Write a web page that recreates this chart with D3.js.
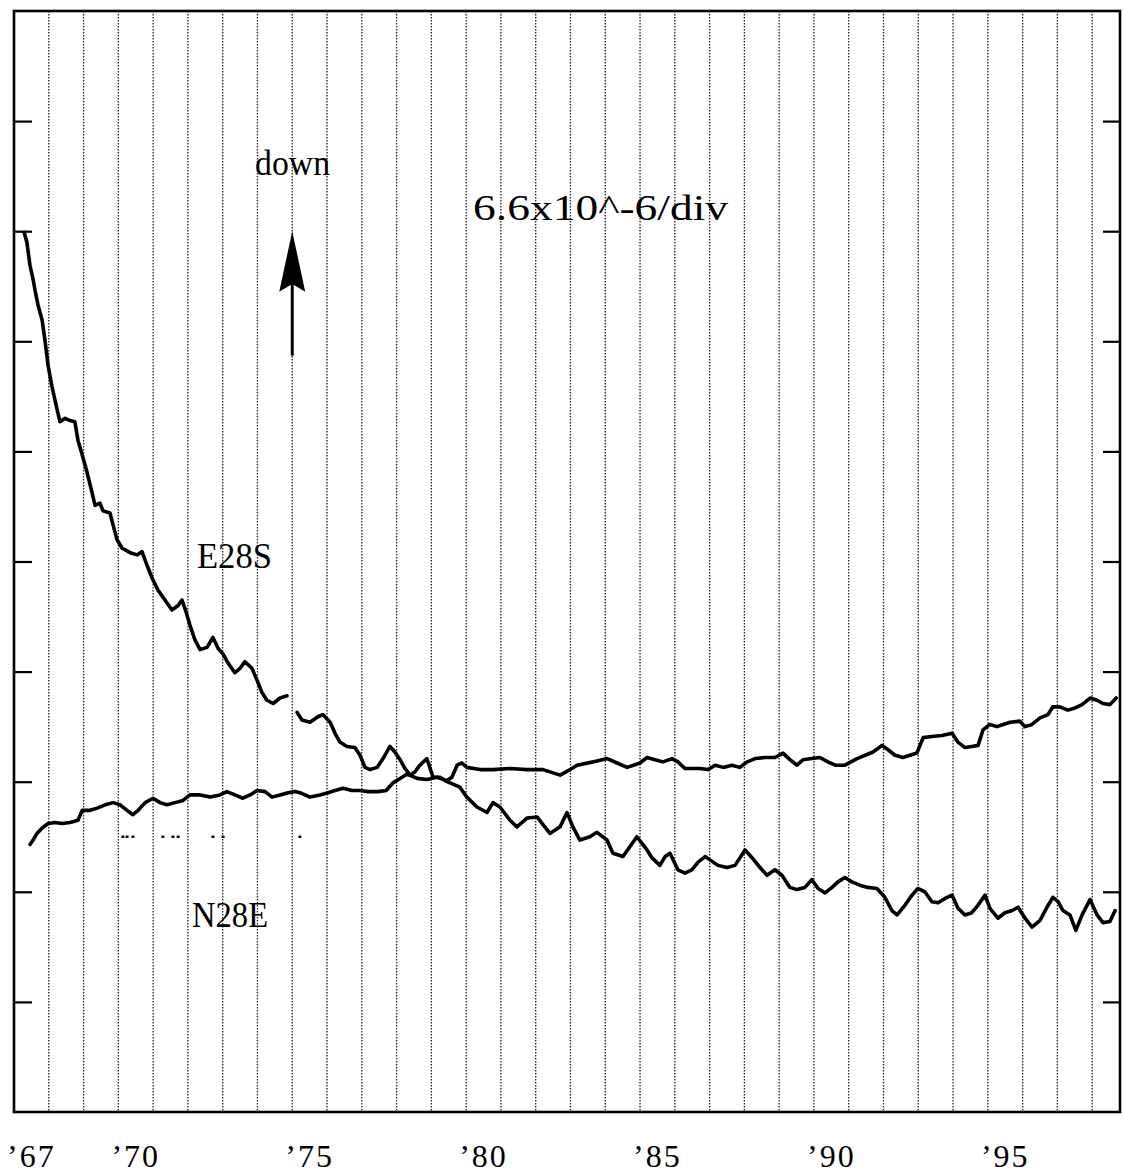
<!DOCTYPE html>
<html><head><meta charset="utf-8">
<script src="https://cdn.jsdelivr.net/npm/d3@7"></script>
<style>html,body{margin:0;padding:0;background:#fff;} svg{display:block;}</style>
</head><body>
<script>
// ---- data (time in decimal years, values in chart divisions; 1 div = 6.6e-6) ----
const e28sYears = [1967.29,1967.37,1967.46,1967.55,1967.60,1967.69,1967.81,1967.89,1967.98,1968.09,
1968.24,1968.32,1968.47,1968.61,1968.75,1968.84,1968.96,1969.10,1969.24,1969.33,
1969.47,1969.56,1969.76,1969.85,1969.96,1970.11,1970.34,1970.54,1970.68,1970.82,
1970.97,1971.14,1971.34,1971.54,1971.72,1971.83,1971.95,1972.06,1972.20,1972.35,
1972.55,1972.72,1972.87,1973.01,1973.15,1973.35,1973.50,1973.64,1973.84,1973.99,
1974.13,1974.27,1974.45,1974.65,1974.85,1975.00,1975.14,1975.28,1975.51,1975.74,1975.88,
1976.09,1976.23,1976.37,1976.57,1976.80,1976.95,1977.09,1977.24,1977.44,1977.61,
1977.81,1977.95,1978.10,1978.24,1978.39,1978.53,1978.67,1978.87,1979.05,1979.25,
1979.45,1979.82,1980.02,1980.31,1980.60,1980.77,1980.97,1981.26,1981.46,1981.75,
1982.04,1982.21,1982.41,1982.70,1982.90,1983.07,1983.27,1983.56,1983.76,1984.05,
1984.22,1984.51,1984.91,1985.20,1985.34,1985.57,1985.72,1985.86,1986.09,1986.29,
1986.49,1986.67,1986.87,1987.01,1987.24,1987.50,1987.73,1988.02,1988.22,1988.45,
1988.65,1988.88,1989.08,1989.31,1989.51,1989.74,1989.94,1990.12,1990.32,1990.52,
1990.69,1990.89,1991.09,1991.32,1991.55,1991.81,1992.04,1992.24,1992.39,1992.62,
1992.82,1992.99,1993.19,1993.39,1993.57,1993.77,1993.97,1994.14,1994.34,1994.54,
1994.72,1994.92,1995.06,1995.29,1995.49,1995.70,1995.87,1996.07,1996.27,1996.50,
1996.70,1996.87,1997.02,1997.16,1997.36,1997.53,1997.71,1997.94,1998.14,1998.31,
1998.51,1998.66];
const e28sValues = [7.99,7.90,7.69,7.56,7.47,7.33,7.19,7.01,6.78,6.59,
6.38,6.27,6.30,6.28,6.27,6.10,5.97,5.81,5.63,5.51,
5.53,5.46,5.44,5.33,5.20,5.12,5.08,5.06,5.09,4.97,
4.85,4.74,4.65,4.56,4.60,4.65,4.54,4.42,4.29,4.20,
4.22,4.31,4.21,4.16,4.08,3.99,4.03,4.09,4.03,3.92,
3.81,3.74,3.71,3.76,3.78,null,3.63,3.56,3.54,3.59,3.61,
3.54,3.44,3.36,3.32,3.31,3.24,3.13,3.11,3.13,3.21,
3.32,3.27,3.20,3.12,3.06,3.09,3.15,3.21,3.04,3.04,
3.00,2.95,2.86,2.77,2.72,2.81,2.77,2.65,2.59,2.67,
2.68,2.61,2.53,2.59,2.72,2.59,2.47,2.50,2.54,2.47,
2.35,2.32,2.50,2.38,2.31,2.24,2.32,2.35,2.20,2.17,
2.20,2.27,2.32,2.29,2.24,2.22,2.24,2.38,2.31,2.22,
2.15,2.20,2.15,2.04,2.02,2.04,2.11,2.03,1.99,2.04,
2.09,2.13,2.09,2.06,2.04,2.03,1.95,1.83,1.79,1.88,
1.97,2.03,2.00,1.91,1.90,1.94,1.97,1.85,1.79,1.81,
1.88,1.97,1.85,1.76,1.81,1.83,1.86,1.76,1.68,1.74,
1.86,1.95,1.91,1.83,1.79,1.65,1.79,1.93,1.79,1.72,
1.73,1.83];

const n28eYears = [1967.46,1967.55,1967.66,1967.81,1967.98,1968.18,1968.38,1968.61,1968.84,1968.96,
1969.19,1969.39,1969.62,1969.85,1970.05,1970.25,1970.42,1970.57,1970.77,1971.00,
1971.20,1971.40,1971.63,1971.86,1972.06,1972.35,1972.64,1972.92,1973.12,1973.35,
1973.58,1973.79,1973.99,1974.22,1974.42,1974.65,1974.88,1975.08,1975.22,1975.51,
1975.80,1976.03,1976.23,1976.46,1976.72,1976.95,1977.18,1977.47,1977.70,1977.90,
1978.10,1978.30,1978.59,1978.87,1979.16,1979.45,1979.59,1979.74,1979.88,1980.02,
1980.40,1980.77,1981.26,1981.75,1982.21,1982.70,1982.99,1983.19,1983.65,1984.05,
1984.34,1984.63,1985.00,1985.20,1985.43,1985.66,1985.92,1986.09,1986.29,1986.49,
1986.72,1986.95,1987.16,1987.39,1987.64,1987.87,1988.08,1988.31,1988.59,1988.88,
1989.11,1989.31,1989.51,1989.69,1989.94,1990.17,1990.40,1990.61,1990.89,1991.24,
1991.47,1991.70,1991.96,1992.13,1992.33,1992.56,1992.76,1992.96,1993.14,1993.39,
1993.68,1993.97,1994.14,1994.34,1994.54,1994.72,1994.86,1995.06,1995.26,1995.44,
1995.64,1995.92,1996.07,1996.27,1996.50,1996.73,1996.87,1997.07,1997.30,1997.51,
1997.71,1997.94,1998.14,1998.31,1998.51,1998.69];
const n28eValues = [2.43,2.47,2.53,2.58,2.62,2.63,2.62,2.63,2.65,2.74,
2.74,2.76,2.79,2.81,2.79,2.74,2.70,2.74,2.81,2.85,
2.81,2.79,2.81,2.83,2.88,2.88,2.86,2.88,2.91,2.88,
2.85,2.88,2.92,2.91,2.86,2.88,2.90,2.91,2.90,2.86,
2.88,2.90,2.92,2.94,2.92,2.92,2.91,2.91,2.92,2.99,
3.03,3.07,3.03,3.02,3.04,3.01,3.04,3.15,3.17,3.13,
3.11,3.11,3.12,3.11,3.11,3.06,3.11,3.15,3.18,3.21,
3.17,3.13,3.17,3.22,3.20,3.18,3.21,3.18,3.12,3.12,
3.12,3.11,3.15,3.13,3.15,3.13,3.18,3.21,3.22,3.22,
3.26,3.20,3.15,3.20,3.21,3.22,3.18,3.15,3.15,3.21,
3.24,3.27,3.33,3.29,3.24,3.22,3.24,3.26,3.40,3.41,
3.42,3.44,3.36,3.31,3.32,3.33,3.47,3.52,3.50,3.52,
3.54,3.55,3.50,3.52,3.58,3.61,3.68,3.68,3.65,3.67,
3.70,3.76,3.74,3.71,3.70,3.76];

const strayYears = [1970.13,1970.25,1970.42,1971.28,1971.57,1971.72,1972.72,1973.01,1975.22];
const strayValues = [2.50,2.50,2.50,2.50,2.50,2.50,2.50,2.50,2.50];

const gridYears = d3.range(1968, 1999);
const yearLabelYears = [1967, 1970, 1975, 1980, 1985, 1990, 1995];
const yearLabels = ["\u201967", "\u201970", "\u201975", "\u201980", "\u201985", "\u201990", "\u201995"];
const divTicks = [1,2,3,4,5,6,7,8,9];
const seriesNames = ["E28S", "N28E"];
const scaleText = "6.6x10^-6/div";
const arrowText = "down";

// ---- drawing ----
const W = 1123, H = 1175;
const svg = d3.select("body").append("svg").attr("width", W).attr("height", H);
svg.append("rect").attr("width", W).attr("height", H).attr("fill", "#fff");

const x = d3.scaleLinear().domain([1967, 1998.8]).range([14, 1120]);
const y = d3.scaleLinear().domain([0, 10]).range([1112, 11]);

// grid lines (dotted)
svg.append("g").selectAll("line").data(gridYears).join("line")
  .attr("x1", d => x(d)).attr("x2", d => x(d))
  .attr("y1", y(10)).attr("y2", y(0))
  .attr("stroke", "#222").attr("stroke-width", 1.3)
  .attr("stroke-dasharray", "1.6,1.4");

// left ticks
svg.append("g").attr("transform", `translate(${x.range()[0]},0)`)
  .call(d3.axisRight(y).tickValues(divTicks).tickSize(18).tickFormat(""))
  .call(g => g.select(".domain").remove())
  .call(g => g.selectAll("line").attr("stroke", "#000").attr("stroke-width", 2.2));
// right ticks
svg.append("g").attr("transform", `translate(${x.range()[1]},0)`)
  .call(d3.axisLeft(y).tickValues(divTicks).tickSize(17).tickFormat(""))
  .call(g => g.select(".domain").remove())
  .call(g => g.selectAll("line").attr("stroke", "#000").attr("stroke-width", 2.2));

// frame
svg.append("rect")
  .attr("x", x.range()[0]).attr("y", y(10))
  .attr("width", x.range()[1] - x.range()[0]).attr("height", y(0) - y(10))
  .attr("fill", "none").attr("stroke", "#000").attr("stroke-width", 2.6);

// series
const line = d3.line().defined(d => d[1] != null).x(d => x(d[0])).y(d => y(d[1]));
const e28s = e28sYears.map((t, i) => [t, e28sValues[i]]);
const n28e = n28eYears.map((t, i) => [t, n28eValues[i]]);
[e28s, n28e].forEach(s => {
  svg.append("path").datum(s).attr("d", line)
    .attr("fill", "none").attr("stroke", "#000").attr("stroke-width", 3.6)
    .attr("stroke-linejoin", "round").attr("stroke-linecap", "round");
});

// stray plotted dots
svg.append("g").selectAll("rect").data(strayYears.map((t, i) => [t, strayValues[i]])).join("rect")
  .attr("x", d => x(d[0]) - 1.5).attr("y", d => y(d[1]) - 1.2)
  .attr("width", 3).attr("height", 2.4).attr("fill", "#000");

// year labels
svg.append("g").selectAll("text").data(yearLabelYears).join("text")
  .attr("x", d => x(d + 0.5)).attr("y", 1167)
  .attr("text-anchor", "middle")
  .attr("font-family", "'Liberation Serif', 'DejaVu Serif', serif")
  .attr("font-size", 32).attr("fill", "#000")
  .attr("letter-spacing", 2)
  .text((d, i) => yearLabels[i]);

const serif = "'Liberation Serif', 'DejaVu Serif', serif";
function label(txt, xp, yp, len) {
  svg.append("text").attr("x", xp).attr("y", yp)
    .attr("font-family", serif).attr("font-size", 36).attr("fill", "#000")
    .attr("textLength", len).attr("lengthAdjust", "spacingAndGlyphs")
    .text(txt);
}
label(arrowText, x(1973.93), 175, 75);
label(scaleText, x(1980.2), 220, 255);
label(seriesNames[0], x(1972.26), 568, 75);
label(seriesNames[1], x(1972.12), 927, 76);

// arrow ("down" direction indicator)
const ax = x(1975), tipY = y(8.0), baseY = y(7.45), notchY = y(7.52), tailY = y(6.87);
svg.append("line").attr("x1", ax).attr("x2", ax).attr("y1", notchY).attr("y2", tailY)
  .attr("stroke", "#000").attr("stroke-width", 3);
svg.append("path")
  .attr("d", `M${ax},${tipY} L${ax + 13},${baseY} L${ax},${notchY} L${ax - 13},${baseY} Z`)
  .attr("fill", "#000");
</script>
</body></html>
